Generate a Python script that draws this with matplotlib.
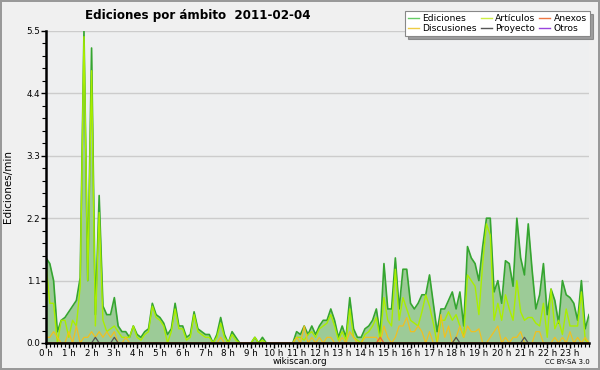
import numpy as np
import matplotlib
matplotlib.use("Agg")
import matplotlib.pyplot as plt

# 10-minute slots over the day (index 0..143)
ediciones = [
    1.5, 1.4, 1.1, 0.2, 0.4, 0.45, 0.55, 0.65, 0.75, 1.15,
    5.5, 1.1, 5.2, 0.5, 2.6, 0.65, 0.5, 0.5, 0.8, 0.3,
    0.2, 0.2, 0.1, 0.3, 0.15, 0.1, 0.2, 0.25, 0.7, 0.5,
    0.45, 0.35, 0.15, 0.25, 0.7, 0.3, 0.3, 0.1, 0.15, 0.55,
    0.25, 0.2, 0.15, 0.15, 0.0, 0.15, 0.45, 0.15, 0.0, 0.2,
    0.1, 0.0, 0.0, 0.0, 0.0, 0.1, 0.0, 0.1, 0.0, 0.0,
    0.0, 0.0, 0.0, 0.0, 0.0, 0.0, 0.2, 0.15, 0.3, 0.15,
    0.3, 0.15, 0.3, 0.4, 0.4, 0.6, 0.4, 0.1, 0.3, 0.1,
    0.8, 0.25, 0.1, 0.1, 0.25, 0.3, 0.4, 0.6, 0.15, 1.4,
    0.6, 0.6, 1.5, 0.6, 1.3, 1.3, 0.7, 0.6, 0.7, 0.85,
    0.85, 1.2, 0.7, 0.2, 0.6, 0.6, 0.75, 0.9, 0.6, 0.9,
    0.3, 1.7, 1.5, 1.4, 1.1, 1.7, 2.2, 2.2, 0.9, 1.1,
    0.7, 1.45, 1.4, 1.0, 2.2, 1.5, 1.2, 2.1, 1.3, 0.6,
    0.85, 1.4, 0.5, 0.95, 0.75, 0.35, 1.1, 0.85, 0.8, 0.7,
    0.4, 1.1, 0.25, 0.5,
]
articulos = [
    1.4, 0.7, 0.7, 0.0, 0.4, 0.4, 0.1, 0.4, 0.3, 1.0,
    5.4, 1.1, 4.8, 0.3, 2.3, 0.4, 0.2, 0.25, 0.3, 0.2,
    0.1, 0.1, 0.1, 0.3, 0.1, 0.05, 0.15, 0.2, 0.65, 0.45,
    0.4, 0.3, 0.0, 0.2, 0.6, 0.25, 0.25, 0.05, 0.1, 0.5,
    0.2, 0.15, 0.1, 0.1, 0.0, 0.1, 0.35, 0.1, 0.0, 0.15,
    0.05, 0.0, 0.0, 0.0, 0.0, 0.1, 0.0, 0.05, 0.0, 0.0,
    0.0, 0.0, 0.0, 0.0, 0.0, 0.0, 0.1, 0.1, 0.05, 0.15,
    0.2, 0.1, 0.25, 0.3, 0.35, 0.5, 0.3, 0.05, 0.2, 0.05,
    0.6, 0.1, 0.05, 0.0, 0.15, 0.2, 0.3, 0.45, 0.05, 0.8,
    0.4, 0.3, 1.3, 0.4, 0.8, 0.6, 0.4, 0.35, 0.3, 0.55,
    0.85, 0.65, 0.35, 0.0, 0.4, 0.4, 0.55, 0.4, 0.5, 0.3,
    0.1, 1.2, 1.1, 1.0, 0.5, 1.4, 2.1, 1.9, 0.4, 0.7,
    0.4, 0.85, 0.6, 0.4, 1.1, 0.55, 0.4, 0.45, 0.45, 0.35,
    0.3, 0.7, 0.1, 0.95, 0.25, 0.4, 0.15, 0.6, 0.3, 0.3,
    0.3, 0.9, 0.05, 0.0,
]
discusiones = [
    0.1, 0.1, 0.2, 0.1, 0.0, 0.0, 0.2, 0.0, 0.3, 0.0,
    0.1, 0.1, 0.2, 0.1, 0.2, 0.1, 0.2, 0.1, 0.2, 0.0,
    0.0, 0.1, 0.0, 0.0, 0.0, 0.0, 0.0, 0.0, 0.0, 0.0,
    0.0, 0.0, 0.0, 0.0, 0.0, 0.0, 0.0, 0.0, 0.0, 0.0,
    0.0, 0.0, 0.0, 0.0, 0.0, 0.0, 0.1, 0.0, 0.0, 0.0,
    0.0, 0.0, 0.0, 0.0, 0.0, 0.0, 0.0, 0.0, 0.0, 0.0,
    0.0, 0.0, 0.0, 0.0, 0.0, 0.0, 0.1, 0.0, 0.3, 0.0,
    0.1, 0.0, 0.1, 0.0, 0.1, 0.1, 0.0, 0.0, 0.1, 0.0,
    0.2, 0.1, 0.0, 0.0, 0.1, 0.1, 0.1, 0.1, 0.0, 0.3,
    0.1, 0.0, 0.1, 0.3, 0.3, 0.45, 0.2, 0.2, 0.3, 0.2,
    0.0, 0.2, 0.0, 0.0, 0.5, 0.1, 0.3, 0.0, 0.1, 0.3,
    0.1, 0.3, 0.2, 0.2, 0.25, 0.0, 0.0, 0.1, 0.2, 0.3,
    0.0, 0.1, 0.0, 0.1, 0.1, 0.2, 0.0, 0.0, 0.0, 0.2,
    0.2, 0.0, 0.0, 0.0, 0.1, 0.0, 0.1, 0.0, 0.2, 0.0,
    0.1, 0.0, 0.1, 0.0,
]
proyecto_slots = [13, 18, 108, 126]
proyecto_vals = [0.1, 0.1, 0.1, 0.1]
anexos_slots = [88]
anexos_vals = [0.1]

hour_labels = [f"{h} h" for h in range(24)]
y_ticks = [0.0, 1.1, 2.2, 3.3, 4.4, 5.5]

n = len(ediciones)
x = np.arange(n) / 6.0
proyecto = np.zeros(n)
proyecto[proyecto_slots] = proyecto_vals
anexos = np.zeros(n)
anexos[anexos_slots] = anexos_vals
otros = np.zeros(n)

plt.rcParams['font.family'] = ['DejaVu Sans']

fig = plt.figure(figsize=(6.0, 3.7), dpi=100)
fig.patch.set_facecolor('#f0f0f0')
fig.patch.set_edgecolor('#999999')
fig.patch.set_linewidth(1.5)

ax = fig.add_axes([46/600, 1-343/370, (589-46)/600, (343-31)/370])
ax.set_facecolor('#eeeff0')

c_ed = '#35a530'
c_art = '#aaee00'
c_dis = '#f0c020'
c_pro = '#555555'
c_anx = '#ee6633'
c_otr = '#9933dd'

ax.fill_between(x, ediciones, 0, color='#9ccb97', lw=0, zorder=2)
ax.plot(x, ediciones, color=c_ed, lw=1.2, zorder=3)
ax.plot(x, articulos, color=c_art, lw=1.0, zorder=4)
ax.plot(x, discusiones, color=c_dis, lw=0.9, zorder=5)
ax.plot(x, proyecto, color=c_pro, lw=0.9, zorder=5)
ax.plot(x, anexos, color=c_anx, lw=0.9, zorder=6)
ax.plot(x, otros, color=c_otr, lw=0.9, zorder=1)

ax.set_xlim(0, x[-1])
ax.set_ylim(0, 5.5)
ax.set_yticks(y_ticks)
ax.set_yticklabels([f"{v:.1f}" for v in y_ticks])
ax.set_yticks(np.arange(0, 5.51, 0.22), minor=True)
ax.set_xticks(np.arange(24))
ax.set_xticklabels(hour_labels)
ax.set_xticks(x, minor=True)
ax.grid(axis='y', which='major', color='#cccccc', lw=1.0, zorder=0)
ax.set_axisbelow(True)

for s in ['top', 'right']:
    ax.spines[s].set_visible(False)
for s in ['left', 'bottom']:
    ax.spines[s].set_linewidth(1.8)
    ax.spines[s].set_color('black')
    ax.spines[s].set_zorder(10)

ax.tick_params(axis='both', which='major', labelsize=6.3, length=3.5, width=1, color='black', pad=0.5)
ax.tick_params(axis='both', which='minor', length=3, width=0.8, color='black')

ax.set_ylabel('Ediciones/min', fontsize=7.5)
ax.yaxis.set_label_coords(-0.06, 0.5)

fig.text(85/600, 1-15/370, 'Ediciones por ámbito  2011-02-04', fontsize=8.6,
         fontweight='bold', ha='left', va='center')
fig.text(300/600, 1-362/370, 'wikiscan.org', fontsize=6.3, ha='center', va='center')
fig.text(590/600, 1-362/370, 'CC BY-SA 3.0', fontsize=5, ha='right', va='center')

handles = [
    plt.Line2D([], [], color='#66cc66', lw=1),
    plt.Line2D([], [], color='#eecc44', lw=1),
    plt.Line2D([], [], color='#ccee44', lw=1),
    plt.Line2D([], [], color=c_pro, lw=1),
    plt.Line2D([], [], color='#ee7744', lw=1),
    plt.Line2D([], [], color='#9944dd', lw=1),
]
labels = ['Ediciones', 'Discusiones', 'Artículos', 'Proyecto', 'Anexos', 'Otros']
leg = fig.legend(handles, labels, ncol=3, loc='upper right',
                 bbox_to_anchor=(590/600, 1-11/370), fontsize=6.6,
                 frameon=True, fancybox=False, shadow=True,
                 handlelength=1.2, handletextpad=0.35, columnspacing=0.45,
                 labelspacing=0.1, borderpad=0.35, borderaxespad=0)
leg.get_frame().set_edgecolor('#888888')
leg.get_frame().set_linewidth(0.8)
leg.get_frame().set_facecolor('white')

fig.savefig('out.png', dpi=100, facecolor=fig.get_facecolor(), edgecolor=fig.get_edgecolor())
